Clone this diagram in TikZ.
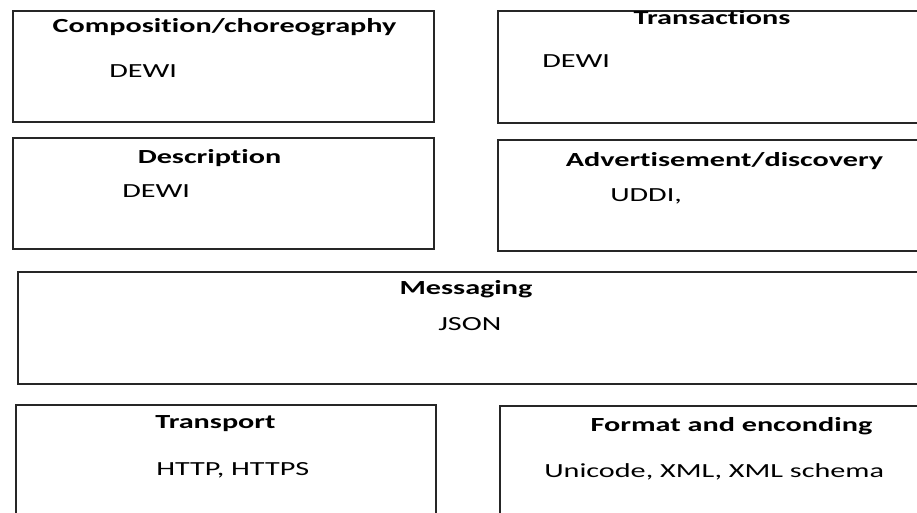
\documentclass[tikz,border=0pt]{standalone}
\usepackage{fontspec}
\setmainfont{Carlito}[FakeStretch=1.51, Ligatures=NoCommon, RawFeature={-clig;-dlig}]
\usepackage{tikz}

\begin{document}
\begin{tikzpicture}[x=0.75pt, y=-0.75pt,
    layer/.style={draw=black!85, line width=0.9pt},
    head/.style={anchor=base, inner sep=0pt, font=\fontsize{15}{18}\selectfont\bfseries},
    item/.style={anchor=base west, inner sep=0pt, font=\fontsize{15}{18}\selectfont}]
    \useasboundingbox (0,0) rectangle (917,513);
    \clip (0,0) rectangle (917,513);

    % layer boxes, the right column runs off the page
    \draw[layer] (13,11) rectangle (434,122);
    \draw[layer] (498,11) rectangle (940,123);
    \draw[layer] (13,138) rectangle (434,249);
    \draw[layer] (498,140) rectangle (940,251);
    \draw[layer] (18,272) rectangle (940,384);
    \draw[layer] (16,405) rectangle (436,540);
    \draw[layer] (500,406) rectangle (940,540);

    \node (comp) at (224.5,33) [head] {Composition/choreography};
    \node (compdewi) at (109,78) [item] {DEWI};

    \node (trans) at (712,25) [head] {Transactions};
    \node (transdewi) at (542,68) [item] {DEWI};

    \node (desc) at (209.5,164) [head] {Description};
    \node (descdewi) at (122,198) [item] {DEWI};

    \node (adv) at (724.5,167) [head] {Advertisement/discovery};
    \node (uddi) at (610,202) [item] {UDDI,};

    \node (msg) at (466,295) [head] {Messaging};
    \node (json) at (438,330) [item] {JSON};

    \node (transp) at (215.5,428) [head] {Transport};
    \node (http) at (156,475) [item] {HTTP, HTTPS};

    \node (fmt) at (731.5,431) [head] {Format and enconding};
    \node (unicode) at (544,477) [item] {Unicode, XML, XML schema};
\end{tikzpicture}
\end{document}
